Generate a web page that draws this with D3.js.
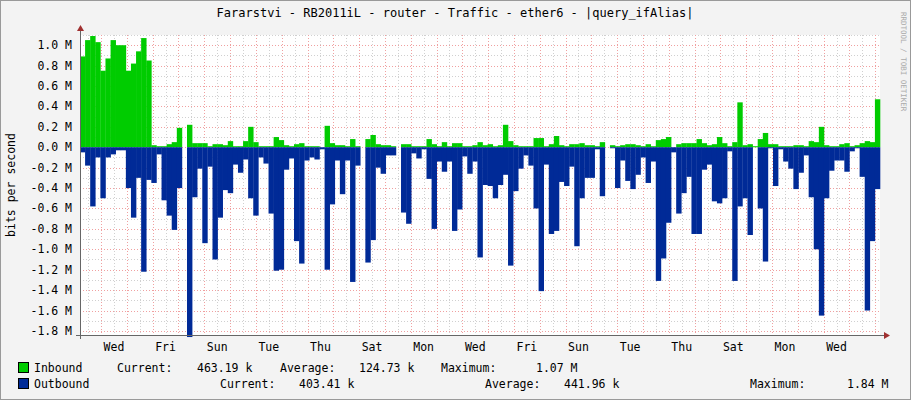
<!DOCTYPE html>
<html>
<head>
<meta charset="utf-8">
<script src="https://cdn.jsdelivr.net/npm/d3@7"></script>
<style>
  body { margin: 0; background: #f3f3f3; }
  text { font-family: "DejaVu Sans Mono", monospace; }
</style>
</head>
<body>
<svg id="chart" width="911" height="400"></svg>
<script>
// values in M bits/s, one per ~5px sample
const inbound = [0.89,1.05,1.09,1.03,0.75,0.87,1.05,1.0,1.0,0.75,0.82,0.94,1.07,0.85,0.02,0.01,0.01,0.03,0.05,0.19,
  0,0.22,0.04,0.04,0.04,0.01,0.03,0.03,0.02,0.06,0.01,0.01,0.06,0.2,0.05,0.01,0.01,0.01,0.1,0.07,
  0.02,0.01,0.03,0.04,0.01,0.01,0.01,0,0.21,0.04,0.02,0.02,0.01,0.08,0.01,0,0.08,0.12,0.03,0.02,
  0.02,0.01,0,0.03,0.03,0.01,0.01,0.01,0.08,0.03,0.01,0.05,0.01,0.04,0.04,0.01,0.01,0.02,0.05,0.02,
  0.03,0.01,0.02,0.22,0.06,0.02,0.01,0.01,0.01,0.09,0.09,0.01,0.03,0.11,0.02,0.01,0.03,0.03,0.04,0.02,
  0.02,0.01,0.05,0,0.02,0.01,0.02,0.03,0.03,0.02,0.01,0.03,0.01,0.07,0.08,0.1,0,0.03,0.04,0.04,
  0.04,0.08,0.04,0.02,0.03,0.1,0.04,0.01,0.05,0.44,0.02,0.03,0.01,0.08,0.14,0.03,0.03,0.01,0.01,0.01,
  0.02,0.02,0.01,0.06,0.05,0.2,0.02,0.01,0.01,0.03,0.04,0.01,0.02,0.04,0.06,0.05,0.47];
const outbound = [0.05,0.18,0.58,0.1,0.5,0.1,0.07,0.03,0.03,0.4,0.69,0.3,1.22,0.32,0.35,0.07,0.52,0.67,0.81,0.4,
  0,1.86,0.49,0.21,0.94,0.19,1.1,0.69,0.42,0.45,0.17,0.25,0.12,0.5,0.67,0.1,0.16,0.65,1.21,1.2,
  0.22,0.11,0.92,1.14,0.13,0.1,0.12,0.02,1.2,0.56,0.13,0.46,0.13,1.32,0.18,0,1.13,0.91,0.2,0.26,
  0.08,0.08,0,0.64,0.75,0.06,0.11,0.02,0.31,0.8,0.14,0.24,0.14,0.82,0.61,0.09,0.26,0.14,1.08,0.37,
  0.38,0.5,0.37,0.27,1.16,0.43,0.21,0.08,0.18,0.6,1.41,0.17,0.85,0.82,0.34,0.38,0.19,0.97,0.5,0.3,
  0.3,0.02,0.48,0,0.01,0.4,0.13,0.33,0.41,0.27,0.1,0.35,0.14,1.31,1.09,0.74,0.05,0.65,0.45,0.29,
  0.85,0.85,0.22,0.17,0.53,0.55,0.5,0.04,1.31,0.58,0.5,0.86,0,0.6,1.12,0.01,0.38,0.02,0.14,0.21,
  0.41,0.25,0.08,0.49,1.0,1.65,0.5,0.23,0.13,0.13,0.24,0.04,0.01,0.29,1.6,0.92,0.41];
const dayLabels = ["Wed","Fri","Sun","Tue","Thu","Sat","Mon","Wed","Fri","Sun","Tue","Thu","Sat","Mon","Wed"];
const yTicks = [1.0,0.8,0.6,0.4,0.2,0,-0.2,-0.4,-0.6,-0.8,-1.0,-1.2,-1.4,-1.6,-1.8];

const svg = d3.select("#chart");
const pLeft = 80, pRight = 880, pTop = 35, pBottom = 335;
const hours = 372;

const x = d3.scaleLinear().domain([0, hours]).range([pLeft, pRight]);
const xi = d3.scaleLinear().domain([0, inbound.length]).range([pLeft, pRight]);
const y = d3.scaleLinear().domain([-1.84, 1.1]).range([pBottom, pTop]);

svg.append("rect").attr("x", 0.5).attr("y", 0.5).attr("width", 910).attr("height", 399)
  .attr("fill", "#f3f3f3").attr("stroke", "#999");
svg.append("rect").attr("x", pLeft).attr("y", pTop).attr("width", pRight - pLeft).attr("height", pBottom - pTop)
  .attr("fill", "#fff");

// grid
const minorY = d3.range(-18, 12).map(d => d / 10);
svg.selectAll(".gy").data(minorY).enter().append("line")
  .attr("x1", pLeft).attr("x2", pRight).attr("y1", d => Math.round(y(d)) + 0.5).attr("y2", d => Math.round(y(d)) + 0.5)
  .attr("stroke", d => Math.round(d * 10) % 2 === 0 ? "#f0a0a0" : "#d0d0d0")
  .attr("stroke-dasharray", "1,2");
const gridX = d3.range(3.8, hours, 6);
svg.selectAll(".gx").data(gridX).enter().append("line")
  .attr("y1", pTop).attr("y2", pBottom).attr("x1", d => Math.round(x(d)) + 0.5).attr("x2", d => Math.round(x(d)) + 0.5)
  .attr("stroke", (d, i) => i % 2 === 1 ? "#f0a0a0" : "#d0d0d0")
  .attr("stroke-dasharray", "1,2");

// bars
const bw = (pRight - pLeft) / inbound.length;
svg.selectAll(".in").data(inbound).enter().append("rect")
  .attr("x", (d, i) => xi(i)).attr("width", bw + 0.3)
  .attr("y", d => y(d)).attr("height", d => y(0) - y(d))
  .attr("fill", "#00cc00");
svg.selectAll(".out").data(outbound).enter().append("rect")
  .attr("x", (d, i) => xi(i)).attr("width", bw + 0.3)
  .attr("y", y(0)).attr("height", d => y(-d) - y(0))
  .attr("fill", "#002a97");

// axes
svg.append("line").attr("x1", pLeft - 4).attr("x2", pRight + 6).attr("y1", pBottom + 0.5).attr("y2", pBottom + 0.5).attr("stroke", "#666");
svg.append("line").attr("x1", pLeft + 0.5).attr("x2", pLeft + 0.5).attr("y1", pTop - 6).attr("y2", pBottom + 4).attr("stroke", "#666");
svg.append("path").attr("d", `M${pRight + 4},${pBottom - 3}L${pRight + 10},${pBottom + 0.5}L${pRight + 4},${pBottom + 4}Z`).attr("fill", "#a03030");
svg.append("path").attr("d", `M${pLeft - 3},${pTop - 4}L${pLeft + 0.5},${pTop - 10}L${pLeft + 4},${pTop - 4}Z`).attr("fill", "#a03030");

svg.selectAll(".yl").data(yTicks).enter().append("text")
  .attr("x", pLeft - 8).attr("y", d => y(d) + 4).attr("text-anchor", "end")
  .attr("font-size", 11.5).attr("fill", "#000")
  .text(d => (d < 0 ? "-" : "") + Math.abs(d).toFixed(1) + " M");

svg.selectAll(".xl").data(dayLabels).enter().append("text")
  .attr("x", (d, i) => x(15.8 + 24 * i)).attr("y", pBottom + 16).attr("text-anchor", "middle")
  .attr("font-size", 11.5).text(d => d);

svg.append("text").attr("x", 455).attr("y", 17).attr("text-anchor", "middle").attr("font-size", 12)
  .text("Fararstvi - RB2011iL - router - Traffic - ether6 - |query_ifAlias|");
svg.append("text").attr("transform", "translate(15,185) rotate(-90)").attr("text-anchor", "middle")
  .attr("font-size", 11.5).text("bits per second");
svg.append("text").attr("transform", "translate(901,12) rotate(90)").attr("font-size", 7.5)
  .attr("fill", "#aaa").text("RRDTOOL / TOBI OETIKER");

// legend
const legend = [
  { color: "#00cc00", y: 372, items: [[34, "Inbound"], [117, "Current:"], [197, "463.19 k"], [280, "Average:"], [359, "124.73 k"], [441, "Maximum:"], [536, "1.07 M"]] },
  { color: "#002a97", y: 388, items: [[34, "Outbound"], [220, "Current:"], [299, "403.41 k"], [485, "Average:"], [564, "441.96 k"], [750, "Maximum:"], [847, "1.84 M"]] }
];
legend.forEach(row => {
  svg.append("rect").attr("x", 18.5).attr("y", row.y - 9.5).attr("width", 10).attr("height", 10)
    .attr("fill", row.color).attr("stroke", "#000");
  row.items.forEach(([tx, t]) => svg.append("text").attr("x", tx).attr("y", row.y).attr("font-size", 11.5).text(t));
});
</script>
</body>
</html>
